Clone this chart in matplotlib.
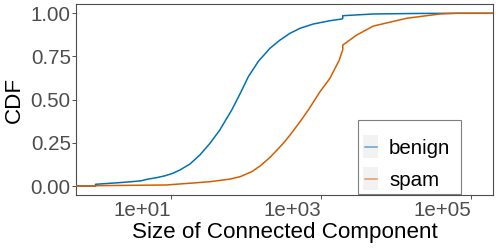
import matplotlib
matplotlib.use("Agg")
import matplotlib.pyplot as plt
from matplotlib.patches import Rectangle
from matplotlib.lines import Line2D

plt.rcParams['font.family'] = ['Liberation Sans', 'DejaVu Sans']

# ---- data ----
benign_size = [1, 2, 3, 4, 5, 6.4, 8.2, 10.6, 13.3, 18, 24.5, 33.3, 45, 64.9, 84, 108,
               147, 209, 285, 387, 525, 791, 1318, 1900, 1950, 1950, 4970, 20000, 60000]
benign_cdf = [0.010, 0.019, 0.025, 0.030, 0.040, 0.048, 0.058, 0.073, 0.093, 0.127,
              0.180, 0.247, 0.324, 0.440, 0.535, 0.633, 0.722, 0.797, 0.845, 0.884,
              0.913, 0.938, 0.957, 0.967, 0.971, 0.986, 0.996, 0.999, 1.0]

spam_size = [1, 8.8, 13.3, 18, 33.3, 61.5, 84, 120, 155, 209, 315, 387, 526, 678, 970,
             1318, 1754, 1950, 1950, 2985, 4970, 13800, 38300, 64000]
spam_cdf = [0.002, 0.006, 0.012, 0.016, 0.025, 0.040, 0.054, 0.083, 0.116, 0.165,
            0.247, 0.295, 0.372, 0.440, 0.546, 0.624, 0.730, 0.790, 0.816, 0.874,
            0.926, 0.971, 0.996, 1.0]

series = ['benign', 'spam']
colors = {'benign': '#0072B2', 'spam': '#D55E00'}
y_ticks = [0, 0.25, 0.5, 0.75, 1.0]
y_tick_labels = ['0.00', '0.25', '0.50', '0.75', '1.00']
x_ticks = [1e1, 1e3, 1e5]
x_tick_labels = ['1e+01', '1e+03', '1e+05']

W, H = 498, 249
fig = plt.figure(figsize=(W / 100, H / 100), dpi=100)
L, R, T, B = 76, 493.3, 4.3, 195
ax = fig.add_axes([L / W, 1 - B / H, (R - L) / W, (B - T) / H])

xmin, xmax = 10 ** -0.26, 10 ** 5.293
ax.set_xscale('log')
ax.set_xlim(xmin, xmax)
ax.set_ylim(-0.052, 1.052)

data = {'benign': (benign_size, benign_cdf), 'spam': (spam_size, spam_cdf)}
for name in ['benign', 'spam']:
    xs, ys = data[name]
    px = [xmin, xs[0]] + list(xs) + [xmax]
    py = [0, 0] + list(ys) + [ys[-1]]
    ax.plot(px, py, color=colors[name], lw=1.1, solid_joinstyle='round', zorder=3)

ax.set_yticks(y_ticks)
ax.set_yticklabels(y_tick_labels)
ax.set_xticks(x_ticks)
ax.set_xticklabels(x_tick_labels, ha='right')
ax.minorticks_off()
ax.tick_params(axis='both', which='major', length=2.9, width=0.6, color='#333333',
               labelsize=14.8, labelcolor='#4D4D4D')
ax.tick_params(axis='y', pad=0.8)
ax.tick_params(axis='x', pad=1.5)
for s in ax.spines.values():
    s.set_color('#4D4D4D')
    s.set_linewidth(0.8)

ax.set_xlabel('Size of Connected Component', fontsize=16.1, color='black', labelpad=1.5)
ax.set_ylabel('CDF', fontsize=16.1, color='black', labelpad=4)

# ---- manual ggplot-like legend ----
def axx(px_):
    return (px_ - L) / (R - L)

def axy(py_):
    return (B - py_) / (B - T)

fx0, fx1, fy0, fy1 = 357.7, 461.3, 120, 194.3
ax.add_patch(Rectangle((axx(fx0), axy(fy1)), axx(fx1) - axx(fx0), axy(fy0) - axy(fy1),
                       transform=ax.transAxes, facecolor='white', edgecolor='#7F7F7F',
                       lw=0.8, zorder=5))
keys = [('benign', 135, 158), ('spam', 167, 190)]
for name, ky0, ky1 in keys:
    ax.add_patch(Rectangle((axx(362.7), axy(ky1)), axx(378.3) - axx(362.7),
                           axy(ky0) - axy(ky1), transform=ax.transAxes,
                           facecolor='#F2F2F2', edgecolor='none', zorder=6))
    yc = (ky0 + ky1) / 2
    ax.add_line(Line2D([axx(364.5), axx(376.5)], [axy(yc), axy(yc)], transform=ax.transAxes,
                       color=colors[name], lw=1.1, alpha=0.6, zorder=7))
    ax.text(axx(389), axy(yc), name, transform=ax.transAxes, fontsize=14.8,
            color='black', va='center_baseline', ha='left', zorder=7)

fig.savefig('out.png', dpi=100)
